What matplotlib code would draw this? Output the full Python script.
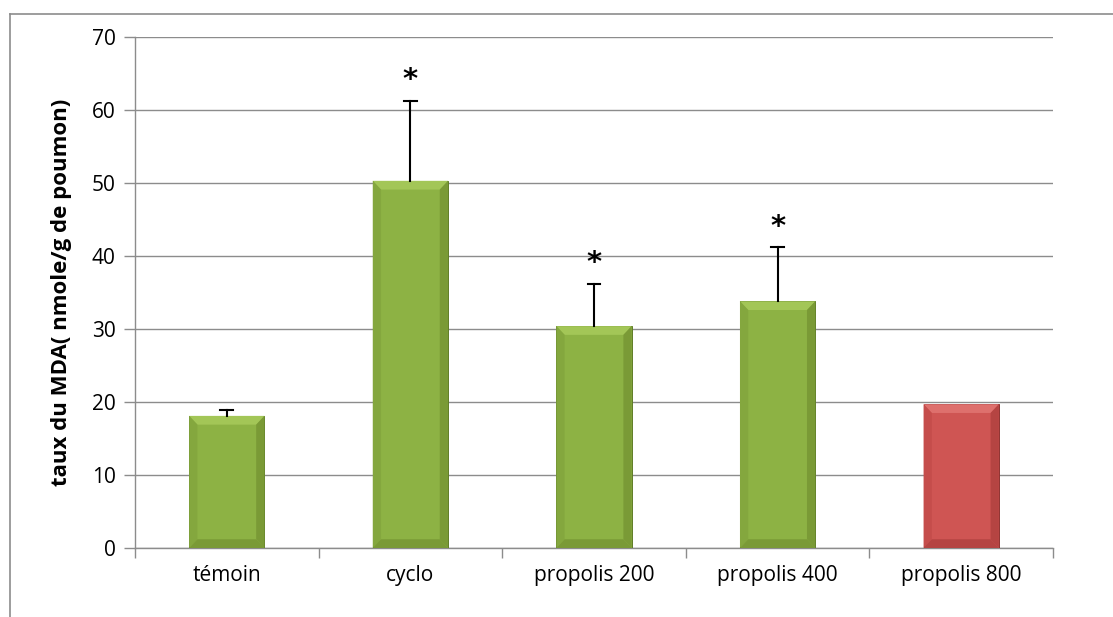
import numpy as np
import matplotlib.pyplot as plt
from matplotlib.lines import Line2D

# données
categories = ["témoin", "cyclo", "propolis 200", "propolis 400", "propolis 800"]
valeurs = [18.1, 50.3, 30.4, 33.8, 19.7]
erreurs = [0.8, 11.0, 5.8, 7.4, 0.0]
signif = [False, True, True, True, False]
y_ticks = [0, 10, 20, 30, 40, 50, 60, 70]

plt.rcParams['font.family'] = ['Open Sans', 'DejaVu Sans']

fig = plt.figure(figsize=(11.13, 6.17), dpi=100)
ax = fig.add_axes([0.1213, 0.1118, 0.8248, 0.8282])

x = np.arange(len(categories))
# face, haut clair, côtés, bas
vert = ["#8db244", "#a3c657", "#84a73e", "#7a9a36"]
rouge = ["#cf5553", "#de706d", "#c54d4b", "#b54442"]
styles = [vert, vert, vert, vert, rouge]

bars = ax.bar(x, valeurs, width=0.41, color=[s[0] for s in styles],
              edgecolor=["#5f7d27", "#5f7d27", "#5f7d27", "#5f7d27", "#8f3331"],
              linewidth=0.7, zorder=3)

# effet de biseau façon Excel, discret
dx, dy = 0.045, 1.2
for b, v, s in zip(bars, valeurs, styles):
    x0 = b.get_x()
    x1 = x0 + b.get_width()
    ax.fill([x0, x1, x1 - dx, x0 + dx], [v, v, v - dy, v - dy], color=s[1], lw=0, zorder=4)
    ax.fill([x0, x0 + dx, x0 + dx, x0], [v, v - dy, dy, 0], color=s[2], lw=0, zorder=4)
    ax.fill([x1, x1 - dx, x1 - dx, x1], [v, v - dy, dy, 0], color=s[3], lw=0, zorder=4)
    ax.fill([x0, x1, x1 - dx, x0 + dx], [0, 0, dy, dy], color=s[3], lw=0, zorder=4)

# barres d'erreur (seulement vers le haut)
for xi, v, e in zip(x, valeurs, erreurs):
    if e > 0:
        ax.plot([xi, xi], [v, v + e], color="black", lw=1.5, zorder=5)
        ax.plot([xi - 0.035, xi + 0.035], [v + e, v + e], color="black", lw=1.5, zorder=5)

# astérisques
for xi, v, e, s in zip(x, valeurs, erreurs, signif):
    if s:
        ax.text(xi, v + e + 0.9, "*", ha="center", va="bottom",
                fontsize=21, fontweight="bold", family="DejaVu Sans", zorder=6)

ax.set_xlim(-0.5, len(categories) - 0.5)
ax.set_ylim(0, 70)
ax.set_yticks(y_ticks)
ax.tick_params(axis="y", labelsize=15, length=8, color="#8c8c8c", width=1, pad=6)
ax.set_xticks(x)
ax.set_xticklabels(categories)
ax.set_xticks(np.arange(-0.5, len(categories)), minor=True)
ax.tick_params(axis="x", which="major", length=0, labelsize=15, pad=12)
ax.tick_params(axis="x", which="minor", length=7, color="#8c8c8c", width=1)

ax.grid(axis="y", color="#8c8c8c", linewidth=1, zorder=0)
ax.set_axisbelow(True)
for s in ["top", "right"]:
    ax.spines[s].set_visible(False)
for s in ["left", "bottom"]:
    ax.spines[s].set_color("#8c8c8c")
    ax.spines[s].set_linewidth(1)

ax.set_ylabel("taux du MDA( nmole/g de poumon)", fontsize=16, fontweight="bold", labelpad=14)

# cadre extérieur
fig.add_artist(Line2D([10 / 1113, 1.0], [1 - 14 / 617, 1 - 14 / 617], color="#8c8c8c", lw=1.2))
fig.add_artist(Line2D([10 / 1113, 10 / 1113], [0, 1 - 14 / 617], color="#8c8c8c", lw=1.2))

fig.savefig("out.png", dpi=100)
